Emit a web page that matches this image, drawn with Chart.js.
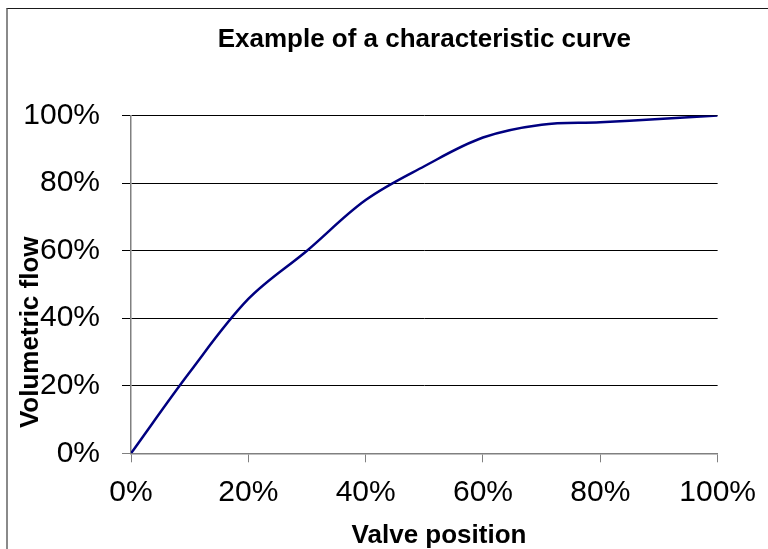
<!DOCTYPE html>
<html>
<head>
<meta charset="utf-8">
<script src="https://cdn.jsdelivr.net/npm/chart.js@4/dist/chart.umd.min.js"></script>
<style>
  html, body { margin: 0; padding: 0; background: #fff; overflow: hidden; width: 768px; height: 549px; }
  #frame { position: absolute; left: 6px; top: 8px; width: 900px; height: 700px;
           border-top: 1px solid #1a1a1a; border-left: 2px solid #8a8a8a; }
  #c { position: absolute; left: 0; top: 0; }
</style>
</head>
<body>
<div id="frame"></div>
<canvas id="c" width="768" height="560"></canvas>
<script>
  // values
  const valvePosition = [0, 10, 20, 30, 40, 50, 60, 70, 80, 90, 100];
  const volumetricFlow = [0, 24, 45.7, 60, 75, 85, 93.5, 97.3, 98.0, 99.0, 100];
  const axisTicks = [0, 20, 40, 60, 80, 100];
  const xTitle = "Valve position";
  const yTitle = "Volumetric flow";

  const FONT = "'Liberation Sans', Arial, sans-serif";
  const pct = (v) => v + "%";

  // axis titles sit off-centre in the original (Excel) layout, so draw them by hand
  const axisTitles = {
    id: "axisTitles",
    afterDraw(chart) {
      const { ctx, chartArea } = chart;
      ctx.save();
      ctx.fillStyle = "#000";
      ctx.font = "bold 26px " + FONT;
      ctx.textBaseline = "middle";
      ctx.textAlign = "center";
      ctx.fillText(xTitle, chartArea.left + 308, 536);
      ctx.translate(31, chartArea.bottom - 121);
      ctx.rotate(-Math.PI / 2);
      ctx.fillText(yTitle, 0, 0);
      ctx.restore();
    },
  };

  new Chart(document.getElementById("c"), {
    type: "scatter",
    data: {
      datasets: [{
        label: yTitle,
        data: valvePosition.map((x, i) => ({ x, y: volumetricFlow[i] })),
        showLine: true,
        borderColor: "#000080",
        borderWidth: 2.5,
        pointRadius: 0,
        tension: 0.35,
        fill: false,
      }],
    },
    plugins: [axisTitles],
    options: {
      responsive: false,
      animation: false,
      devicePixelRatio: 1,
      layout: { padding: { top: 14.4, left: 11.4, right: 48.5, bottom: 4.4 } },
      plugins: {
        legend: { display: false },
        tooltip: { enabled: false },
        title: {
          display: true,
          fullSize: false,
          text: "Example of a characteristic curve",
          color: "#000",
          font: { family: FONT, size: 26, weight: "bold" },
          padding: { top: 10, bottom: 60 },
        },
      },
      scales: {
        x: {
          type: "linear",
          min: 0, max: 100,
          afterBuildTicks: (s) => { s.ticks = axisTicks.map((v) => ({ value: v })); },
          afterFit: (s) => { s.height = 102.3; },
          ticks: { callback: pct, color: "#000", padding: 12, maxRotation: 0,
                   font: { family: FONT, size: 30 } },
          grid: { drawOnChartArea: false, drawTicks: true, tickLength: 9, color: "#808080" },
          border: { color: "#808080", width: 1.5 },
        },
        y: {
          min: 0, max: 100,
          afterBuildTicks: (s) => { s.ticks = axisTicks.map((v) => ({ value: v })); },
          afterFit: (s) => { s.width = 119.6; },
          ticks: { callback: pct, color: "#000", padding: 22,
                   font: { family: FONT, size: 30 } },
          grid: { color: (c) => (c.tick && c.tick.value === 0 ? "#808080" : "#000"),
                  lineWidth: 1, tickLength: 9 },
          border: { color: "#808080", width: 1.5 },
        },
      },
    },
  });
</script>
</body>
</html>
